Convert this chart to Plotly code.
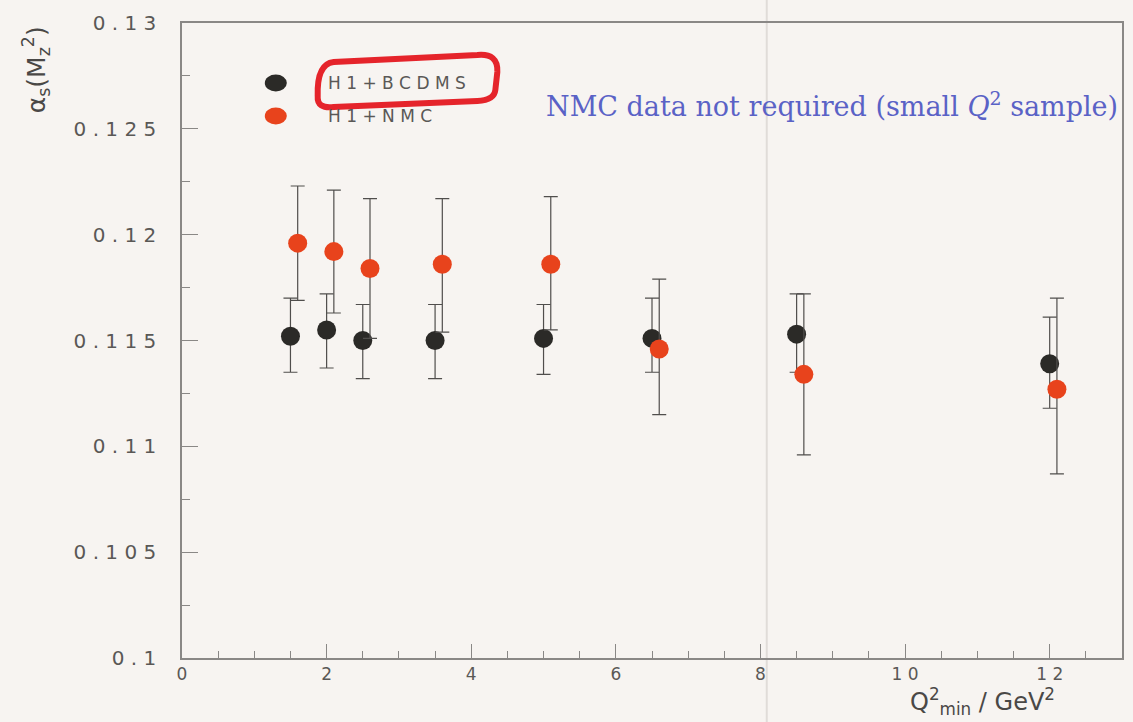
import plotly.graph_objects as go

# ---------------- data ----------------
bcdms_q2 = [1.5, 2.0, 2.5, 3.5, 5.0, 6.5, 8.5, 12.0]
bcdms_as = [0.1152, 0.1155, 0.1150, 0.1150, 0.1151, 0.1151, 0.1153, 0.1139]
bcdms_up = [0.1170, 0.1172, 0.1167, 0.1167, 0.1167, 0.1170, 0.1172, 0.1161]
bcdms_lo = [0.1135, 0.1137, 0.1132, 0.1132, 0.1134, 0.1135, 0.1135, 0.1118]

nmc_q2 = [1.6, 2.1, 2.6, 3.6, 5.1, 6.6, 8.6, 12.1]
nmc_as = [0.1196, 0.1192, 0.1184, 0.1186, 0.1186, 0.1146, 0.1134, 0.1127]
nmc_up = [0.1223, 0.1221, 0.1217, 0.1217, 0.1218, 0.1179, 0.1172, 0.1170]
nmc_lo = [0.1169, 0.1163, 0.1151, 0.1154, 0.1155, 0.1115, 0.1096, 0.1087]

series_names = ["H1+BCDMS", "H1+NMC"]
series_colors = ["#2b2a27", "#e8431c"]

x_tickvals = [0, 2, 4, 6, 8, 10, 12]
x_ticklabels = ["0", "2", "4", "6", "8", "10", "12"]
y_tickvals = [0.1, 0.105, 0.11, 0.115, 0.12, 0.125, 0.13]
y_ticklabels = ["0.1", "0.105", "0.11", "0.115", "0.12", "0.125", "0.13"]

note_text = "NMC data not required (small <i>Q</i><sup>2</sup> sample)"

# ---------------- layout geometry (pixels) ----------------
W, H = 1133, 722
L, R, T, B = 182, 1124, 23, 658


def px(p):
    return (p - L) / (R - L)


def py(p):
    return (B - p) / (B - T)


def spaced(s):
    return " ".join(s)


BG = "#f7f4f1"
AX = "#8a8886"
TXT = "#5a5856"

fig = go.Figure()

for xs, ys, up, lo, col, name in [
    (bcdms_q2, bcdms_as, bcdms_up, bcdms_lo, series_colors[0], series_names[0]),
    (nmc_q2, nmc_as, nmc_up, nmc_lo, series_colors[1], series_names[1]),
]:
    fig.add_trace(go.Scatter(
        x=xs, y=ys, mode="markers", name=name, showlegend=False,
        marker=dict(color=col, size=19, line=dict(width=0)),
        error_y=dict(type="data", symmetric=False,
                     array=[u - v for u, v in zip(up, ys)],
                     arrayminus=[v - l for v, l in zip(ys, lo)],
                     color="#504e4c", thickness=1.2, width=7),
    ))

fig.update_xaxes(
    range=[0, 13], showgrid=False, zeroline=False,
    showline=True, linecolor=AX, linewidth=1.5, mirror=True,
    ticks="inside", ticklen=14, tickcolor=AX, tickwidth=1,
    tickvals=x_tickvals, ticktext=[spaced(t) for t in x_ticklabels],
    tickfont=dict(family="DejaVu Sans", size=17, color=TXT), ticklabelstandoff=0,
    minor=dict(ticks="inside", ticklen=7, tickcolor=AX, dtick=0.5, showgrid=False),
)
fig.update_yaxes(
    range=[0.1, 0.13], showgrid=False, zeroline=False,
    showline=True, linecolor=AX, linewidth=1.5, mirror=True,
    ticks="inside", ticklen=16, tickcolor=AX, tickwidth=1,
    tickvals=y_tickvals, ticktext=[spaced(t) for t in y_ticklabels],
    tickfont=dict(family="DejaVu Sans", size=20, color=TXT), ticklabelstandoff=20,
    minor=dict(ticks="inside", ticklen=8, tickcolor=AX, dtick=0.0025, showgrid=False),
)

shapes = []
annotations = []

# scan fold line
shapes.append(dict(type="line", xref="paper", yref="paper",
                   x0=px(768), x1=px(768), y0=py(0), y1=py(722),
                   line=dict(color="rgba(190,185,180,0.4)", width=2), layer="below"))

# manual legend
leg_y = [83, 116]
for i, (name, col) in enumerate(zip(series_names, series_colors)):
    shapes.append(dict(type="circle", xref="paper", yref="paper",
                       xsizemode="pixel", ysizemode="pixel",
                       xanchor=px(276), yanchor=py(leg_y[i]),
                       x0=-11, x1=11, y0=-8.5, y1=8.5,
                       fillcolor=col, line=dict(width=0)))
    annotations.append(dict(text=spaced(name), xref="paper", yref="paper",
                            x=px(326), y=py(leg_y[i]), xanchor="left", yanchor="middle",
                            showarrow=False,
                            font=dict(family="DejaVu Sans", size=17, color=TXT)))

# red hand-drawn loop around H1+BCDMS
pts = ("M {a},{b} Q {c},{d} {e},{f} L {g},{h} Q {i},{j} {k},{l} L {m},{n} "
       "Q {o},{p} {q},{r} L {s},{t} Q {u},{v} {w},{x} Z")
loop = [(318, 96), (317, 64), (334, 62), (478, 55), (499, 53), (498, 72),
        (496, 90), (495, 100), (478, 101), (334, 107), (317, 109), (318, 96)]
keys = "abcdefghijklmnopqrstuvwx"
vals = {}
for n, (xx, yy) in enumerate(loop):
    vals[keys[2 * n]] = f"{px(xx):.5f}"
    vals[keys[2 * n + 1]] = f"{py(yy):.5f}"
shapes.append(dict(type="path", xref="paper", yref="paper",
                   path=pts.format(**vals),
                   line=dict(color="#e5242b", width=6)))

# blue note
annotations.append(dict(text=note_text, xref="paper", yref="paper",
                        x=px(545), y=py(104), xanchor="left", yanchor="middle",
                        showarrow=False,
                        font=dict(family="DejaVu Serif", size=27, color="#5a62c6")))

# axis titles
annotations.append(dict(text="α<sub>s</sub>(M<sub>z</sub><sup>2</sup>)",
                        xref="paper", yref="paper", x=px(36), y=py(70),
                        xanchor="center", yanchor="middle", textangle=-90,
                        showarrow=False,
                        font=dict(family="DejaVu Sans", size=25, color="#4a4846")))
annotations.append(dict(text="Q<sup>2</sup><sub>min</sub> / GeV<sup>2</sup>",
                        xref="paper", yref="paper", x=px(910), y=py(721),
                        xanchor="left", yanchor="bottom",
                        showarrow=False,
                        font=dict(family="DejaVu Sans", size=24, color="#4a4846")))

fig.update_layout(
    width=W, height=H,
    margin=dict(l=L, r=W - R, t=T, b=H - B),
    paper_bgcolor=BG, plot_bgcolor=BG,
    shapes=shapes, annotations=annotations,
    showlegend=False,
)

fig.write_html("out.html")
